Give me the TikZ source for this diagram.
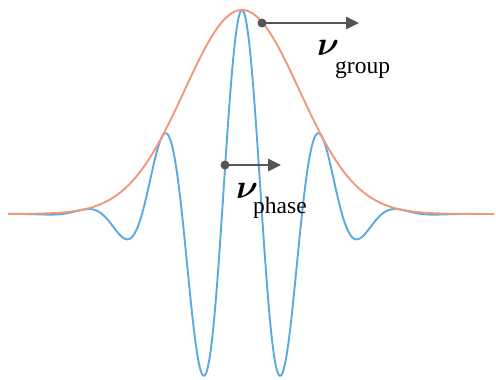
\documentclass[tikz,border=0pt]{standalone}
\usepackage{fontspec}
\setmainfont{Liberation Serif}
\usetikzlibrary{arrows.meta}
\definecolor{envcol}{HTML}{EE9A7A}
\definecolor{wavecol}{HTML}{5AAADF}
\definecolor{arrcol}{HTML}{555555}
\newcommand{\bignu}{\scalebox{3.4}{\boldmath$\nu$}}
\tikzset{
  envline/.style={draw=envcol, line width=1.9pt, line join=round},
  waveline/.style={draw=wavecol, line width=1.9pt, line join=round},
  velarrow/.style={draw=arrcol, line width=2.8pt, -{Triangle[length=13pt,width=12pt]}},
  veldot/.style={fill=arrcol},
  nulabel/.style={anchor=base west, inner sep=0pt},
  sublabel/.style={anchor=base west, inner sep=0pt, font=\fontsize{23.5}{24}\selectfont}
}
\begin{document}
\begin{tikzpicture}[x=1pt,y=-1pt]
\useasboundingbox (0,0) rectangle (496,380);
% wave packet
\draw[waveline] plot[domain=-234:252, samples=500, variable=\t]
  ({242+\t}, {214-204*exp(-0.5*(\t/57.4)^2)*cos(\t*4.5)});
% envelope
\draw[envline] plot[domain=-234:252, samples=300, variable=\t]
  ({242+\t}, {214-204*exp(-0.5*(\t/57.4)^2)});
% group velocity
\coordinate (gs) at (262,23);
\coordinate (ge) at (359,23);
\draw[velarrow] (gs) -- (ge);
\fill[veldot] (gs) circle (4.5);
\node[nulabel] (gnu) at (317,55) {\bignu};
\node[sublabel] (gsub) at (335,73) {group};
% phase velocity
\coordinate (ps) at (225,165);
\coordinate (pe) at (281,165);
\draw[velarrow] (ps) -- (pe);
\fill[veldot] (ps) circle (4.5);
\node[nulabel] (pnu) at (236,198) {\bignu};
\node[sublabel] (psub) at (253,213) {phase};
\end{tikzpicture}
\end{document}
